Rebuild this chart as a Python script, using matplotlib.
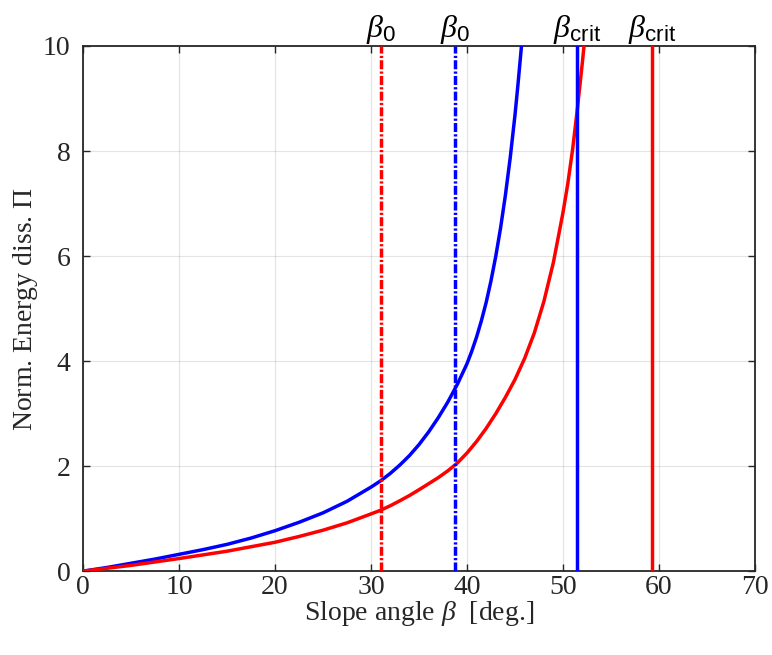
import matplotlib
matplotlib.use("Agg")
import matplotlib.pyplot as plt

plt.rcParams['font.family'] = ['Liberation Serif', 'DejaVu Serif']
plt.rcParams['mathtext.fontset'] = 'custom'
plt.rcParams['mathtext.rm'] = 'Liberation Serif'
plt.rcParams['mathtext.it'] = 'Liberation Serif:italic'
plt.rcParams['mathtext.sf'] = 'Liberation Sans'
plt.rcParams['lines.scale_dashes'] = False

# Data
blue_x = [0, 2.5, 5, 7.5, 10, 12.5, 15, 17.5, 20, 22.5, 25, 27.5, 30, 31, 32, 33, 34,
          35, 36, 37, 38, 39, 40, 40.5, 41, 41.5, 42, 42.5, 43, 43.5, 44, 44.5, 45,
          45.3, 45.6, 45.9]
blue_y = [0, 0.07, 0.15, 0.23, 0.32, 0.41, 0.51, 0.63, 0.77, 0.93, 1.11, 1.33, 1.60,
          1.72, 1.86, 2.02, 2.20, 2.41, 2.65, 2.92, 3.22, 3.56, 3.95, 4.19, 4.46, 4.77,
          5.12, 5.53, 6.00, 6.54, 7.16, 7.87, 8.69, 9.25, 9.85, 10.47]
red_x = [0, 5, 10, 15, 20, 22.5, 25, 27.5, 30, 31, 32, 33, 34, 35, 36, 37, 38, 39,
         40, 41, 42, 43, 44, 45, 46, 47, 48, 49, 50, 50.5, 51, 51.5, 52, 52.4]
red_y = [0, 0.11, 0.24, 0.38, 0.55, 0.66, 0.78, 0.92, 1.09, 1.16, 1.245, 1.34, 1.44,
         1.55, 1.665, 1.78, 1.91, 2.06, 2.25, 2.47, 2.72, 3.00, 3.31, 3.65, 4.05, 4.53,
         5.13, 5.88, 6.83, 7.38, 8.03, 8.81, 9.66, 10.38]
beta0_red = 31.05
beta0_blue = 38.75
betacrit_blue = 51.5
betacrit_red = 59.3
x_ticks = [0, 10, 20, 30, 40, 50, 60, 70]
y_ticks = [0, 2, 4, 6, 8, 10]

fig = plt.figure(figsize=(7.72, 6.55), dpi=100)
ax = fig.add_axes([0.1075, 0.128, 0.978 - 0.1075, 0.9298 - 0.128])

lw = 2.5
dd = (0, (6.5, 1.6, 1.6, 1.6))
ax.plot(blue_x, blue_y, color='#0000ff', lw=lw, zorder=3, solid_joinstyle='round')
ax.plot(red_x, red_y, color='#ff0000', lw=lw, zorder=3, solid_joinstyle='round')
ax.axvline(beta0_red, color='#ff0000', lw=lw, linestyle=dd, zorder=3)
ax.axvline(beta0_blue, color='#0000ff', lw=lw, linestyle=dd, zorder=3)
ax.axvline(betacrit_blue, color='#0000ff', lw=lw, zorder=3)
ax.axvline(betacrit_red, color='#ff0000', lw=lw, zorder=3)

ax.set_xlim(0, 70)
ax.set_ylim(0, 10)
ax.set_xticks(x_ticks)
ax.set_yticks(y_ticks)
ax.grid(True, color='#262626', alpha=0.12, lw=0.8)
ax.set_axisbelow(True)
ax.tick_params(direction='in', top=True, right=True, length=5, width=1.0,
               color='#262626', labelsize=20, labelcolor='#262626')
ax.tick_params(axis='x', pad=3)
ax.tick_params(axis='y', pad=9)
for s in ax.spines.values():
    s.set_color('#262626')
    s.set_linewidth(1.3)

ax.set_xlabel(r'Slope angle $\beta$  [deg.]', fontsize=20, color='#262626', labelpad=-1)
ax.set_ylabel(r'Norm. Energy diss. $\Pi$', fontsize=20, color='#262626', labelpad=2)

for xv, lab in [(beta0_red, r'$\beta_{\mathsf{0}}$'), (beta0_blue, r'$\beta_{\mathsf{0}}$'),
                (betacrit_blue, r'$\beta_{\mathsf{crit}}$'), (betacrit_red, r'$\beta_{\mathsf{crit}}$')]:
    ax.text(xv, 10.0, lab, ha='center', va='bottom', fontsize=23, color='black',
            zorder=5, clip_on=False)

fig.savefig('out.png', dpi=100)
